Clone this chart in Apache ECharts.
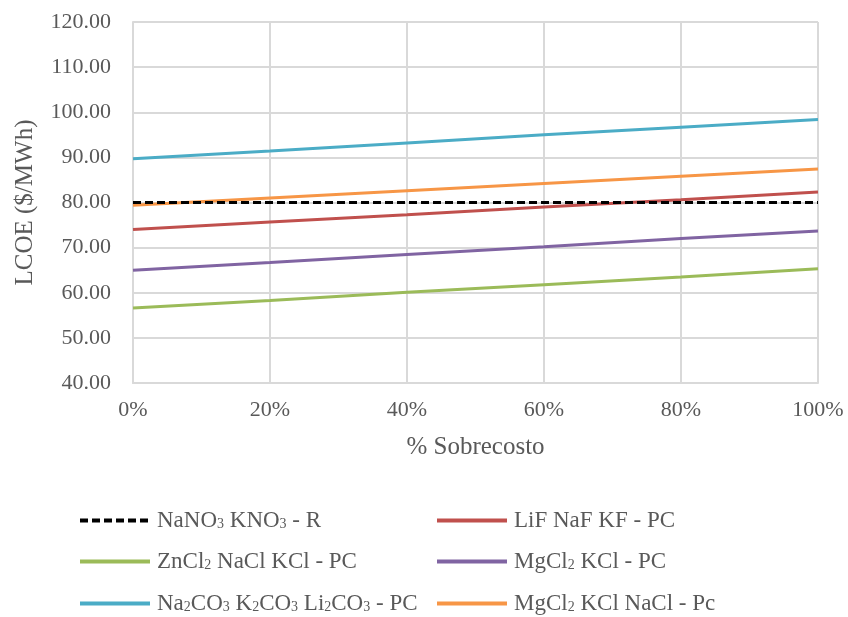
<!DOCTYPE html>
<html><head><meta charset="utf-8">
<script src="https://cdn.jsdelivr.net/npm/echarts@6/dist/echarts.min.js"></script>
<style>html,body{margin:0;padding:0;background:#fff}#c{width:848px;height:617px}</style>
</head><body><div id="c"></div>
<script>
const xValues = [0, 0.2, 0.4, 0.6, 0.8, 1.0];
const seriesNames = ['NaNO3 KNO3 - R', 'LiF NaF KF - PC', 'ZnCl2 NaCl KCl - PC', 'MgCl2 KCl - PC', 'Na2CO3 K2CO3 Li2CO3 - PC', 'MgCl2 KCl NaCl - Pc'];
const nanoKno = [80.0, 80.0, 80.0, 80.0, 80.0, 80.0];
const lifNafKf = [74.0, 75.7, 77.3, 79.0, 80.6, 82.3];
const zncl2 = [56.6, 58.3, 60.1, 61.8, 63.5, 65.3];
const mgcl2Kcl = [65.0, 66.7, 68.5, 70.2, 72.0, 73.7];
const na2co3 = [89.7, 91.4, 93.2, 95.0, 96.7, 98.4];
const mgcl2KclNacl = [79.4, 81.0, 82.6, 84.2, 85.8, 87.4];
const seriesValues = [nanoKno, lifNafKf, zncl2, mgcl2Kcl, na2co3, mgcl2KclNacl];
const colors = ['#000000', '#c0504d', '#9bbb59', '#8064a2', '#4bacc6', '#f79646'];

const font = 'Liberation Serif, Times New Roman, serif';
const chart = echarts.init(document.getElementById('c'));
const legendPos = [[78, 509], [435, 509], [78, 550], [435, 550], [78, 592], [435, 592]];
const legends = seriesNames.map((n, i) => ({
  data: [n], left: legendPos[i][0], top: legendPos[i][1], padding: 0,
  itemWidth: 70, itemHeight: 14, itemGap: 0,
  itemStyle: {opacity: 0},
  lineStyle: {width: 4},
  formatter: s => s.replace(/([A-Za-z])(\d)/g, '$1{s|$2}'),
  textStyle: {fontFamily: font, fontSize: 23, color: '#595959', padding: [0, 0, 0, 2],
    rich: {s: {fontFamily: font, fontSize: 14, color: '#595959', padding: [8, 0, 0, 0]}}}
}));
chart.setOption({
  animation: false,
  color: colors,
  grid: {left: 133, right: 30, top: 22, bottom: 234},
  legend: legends,
  xAxis: {
    type: 'value', min: 0, max: 1, interval: 0.2,
    name: '% Sobrecosto', nameLocation: 'middle', nameGap: 52,
    nameTextStyle: {fontFamily: font, fontSize: 25, color: '#595959'},
    axisLine: {lineStyle: {color: '#d9d9d9', width: 2}},
    axisTick: {show: false},
    axisLabel: {fontFamily: font, fontSize: 22, color: '#595959', margin: 16,
      formatter: v => Math.round(v * 100) + '%'},
    splitLine: {show: true, lineStyle: {color: '#d9d9d9', width: 2}}
  },
  yAxis: {
    type: 'value', min: 40, max: 120, interval: 10,
    name: 'LCOE ($/MWh)', nameLocation: 'middle', nameGap: 95,
    nameTextStyle: {fontFamily: font, fontSize: 25, color: '#595959'},
    axisLine: {show: true, lineStyle: {color: '#d9d9d9', width: 2}},
    axisTick: {show: false},
    axisLabel: {fontFamily: font, fontSize: 22, color: '#595959', margin: 22,
      formatter: v => v.toFixed(2)},
    splitLine: {show: true, lineStyle: {color: '#d9d9d9', width: 2}}
  },
  series: seriesNames.map((n, i) => ({
    name: n, type: 'line', symbol: 'none', z: i === 0 ? 10 : 2,
    data: xValues.map((x, j) => [x, seriesValues[i][j]]),
    lineStyle: {width: 3, color: colors[i], type: i === 0 ? [8, 4] : 'solid'}
  }))
});
</script></body></html>
